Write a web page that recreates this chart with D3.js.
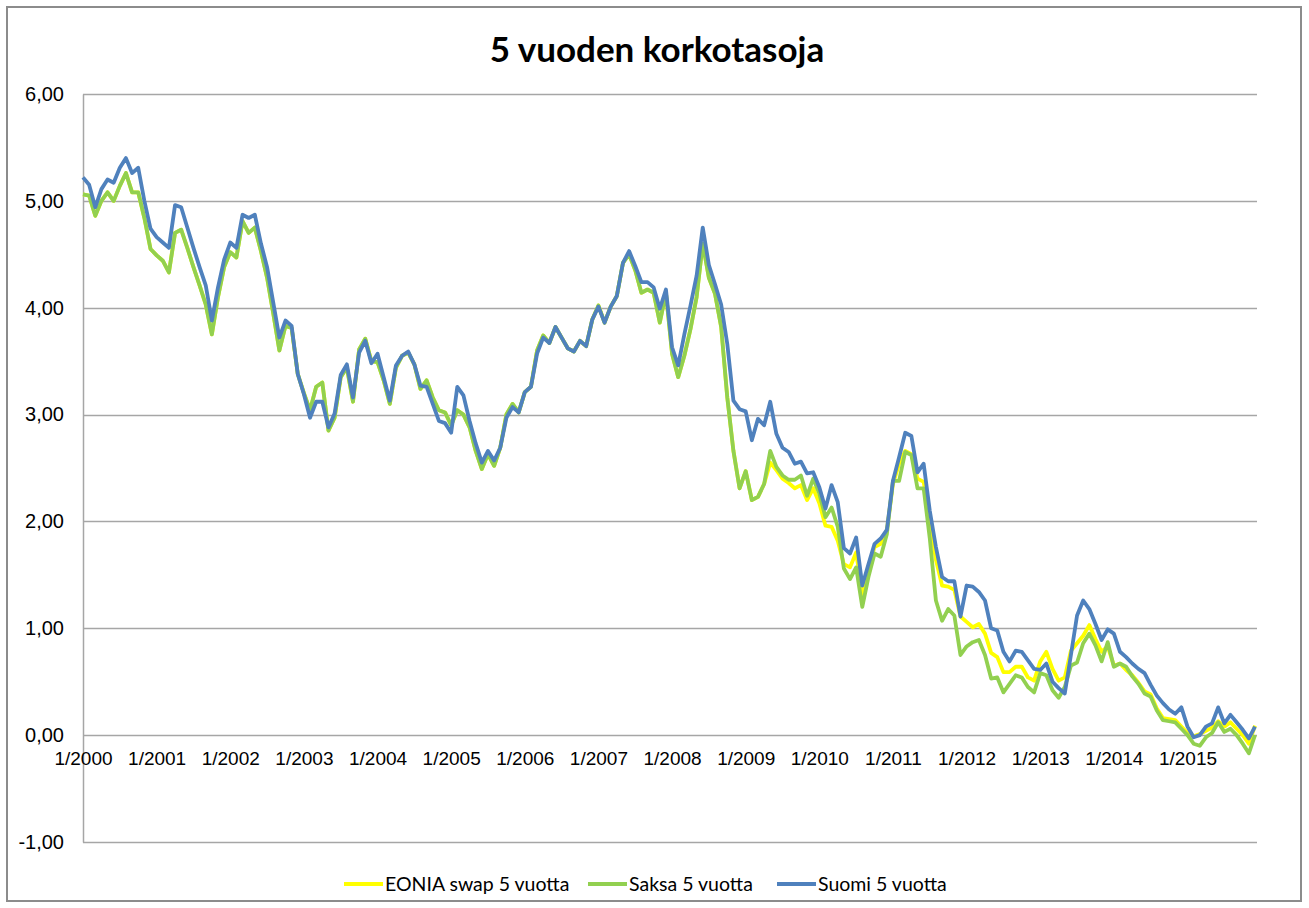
<!DOCTYPE html>
<html>
<head>
<meta charset="utf-8">
<script src="https://cdn.jsdelivr.net/npm/d3@7"></script>
<style>
  body { margin: 0; background: #fff; }
  svg { font-family: Lato, "Open Sans", sans-serif; }
</style>
</head>
<body>
<svg id="chart"></svg>
<script>
// monthly values, 1/2000 ... 12/2015
const yearLabels = ['1/2000','1/2001','1/2002','1/2003','1/2004','1/2005','1/2006','1/2007',
  '1/2008','1/2009','1/2010','1/2011','1/2012','1/2013','1/2014','1/2015']
const yTicks = [-1, 0, 1, 2, 3, 4, 5, 6]

const eonia = [
  5.06,5.05,4.86,5.00,5.08,5.00,5.14,5.26,5.08,5.08,4.84,4.55,
  4.49,4.44,4.33,4.70,4.73,4.56,4.38,4.21,4.03,3.75,4.10,4.38,
  4.52,4.47,4.81,4.70,4.75,4.53,4.28,3.95,3.60,3.83,3.81,3.38,
  3.20,3.04,3.26,3.30,2.85,2.97,3.35,3.44,3.12,3.61,3.71,3.50,
  3.49,3.32,3.10,3.44,3.55,3.58,3.47,3.24,3.32,3.16,3.04,3.02,
  2.90,3.04,3.00,2.88,2.66,2.49,2.63,2.52,2.69,3.00,3.10,3.02,
  3.21,3.26,3.60,3.74,3.67,3.82,3.72,3.62,3.59,3.69,3.64,3.89,
  4.02,3.86,4.01,4.11,4.42,4.50,4.35,4.14,4.17,4.14,3.86,4.14,
  3.57,3.35,3.55,3.80,4.10,4.60,4.28,4.13,3.82,3.16,2.66,2.31,
  2.47,2.20,2.23,2.35,2.55,2.48,2.40,2.36,2.31,2.34,2.20,2.31,
  2.17,1.96,1.95,1.82,1.60,1.57,1.71,1.32,1.57,1.76,1.79,1.92,
  2.35,2.54,2.66,2.63,2.40,2.37,2.01,1.64,1.40,1.39,1.36,1.11,
  1.06,1.01,1.04,0.95,0.77,0.73,0.59,0.59,0.64,0.64,0.54,0.51,
  0.69,0.78,0.62,0.51,0.54,0.79,0.86,0.93,1.03,0.90,0.78,0.83,
  0.65,0.67,0.61,0.56,0.49,0.41,0.38,0.25,0.16,0.15,0.14,0.08,
  0.02,-0.01,0.01,0.04,0.07,0.13,0.08,0.12,0.06,0.00,-0.08,0.09
]

const saksa = [
  5.06,5.05,4.86,5.00,5.08,5.00,5.14,5.26,5.08,5.08,4.84,4.55,
  4.49,4.44,4.33,4.70,4.73,4.56,4.38,4.21,4.03,3.75,4.10,4.38,
  4.52,4.47,4.81,4.70,4.75,4.53,4.28,3.95,3.60,3.83,3.81,3.38,
  3.20,3.04,3.26,3.30,2.85,2.97,3.35,3.44,3.12,3.61,3.71,3.50,
  3.49,3.32,3.10,3.44,3.55,3.58,3.47,3.24,3.32,3.16,3.04,3.02,
  2.90,3.04,3.00,2.88,2.66,2.49,2.63,2.52,2.69,3.00,3.10,3.02,
  3.21,3.26,3.60,3.74,3.67,3.82,3.72,3.62,3.59,3.69,3.64,3.89,
  4.02,3.86,4.01,4.11,4.42,4.50,4.35,4.14,4.17,4.14,3.86,4.14,
  3.57,3.35,3.55,3.80,4.10,4.60,4.28,4.13,3.82,3.16,2.66,2.31,
  2.47,2.20,2.23,2.35,2.66,2.51,2.43,2.39,2.39,2.43,2.24,2.40,
  2.26,2.04,2.13,1.95,1.56,1.46,1.57,1.20,1.48,1.70,1.67,1.88,
  2.38,2.38,2.65,2.62,2.31,2.31,1.84,1.26,1.07,1.18,1.12,0.75,
  0.83,0.87,0.89,0.75,0.53,0.54,0.40,0.48,0.56,0.54,0.45,0.40,
  0.58,0.56,0.42,0.35,0.45,0.65,0.68,0.86,0.95,0.84,0.69,0.87,
  0.64,0.67,0.64,0.55,0.48,0.39,0.36,0.23,0.14,0.13,0.12,0.06,
  0.00,-0.08,-0.10,-0.02,0.02,0.12,0.03,0.06,0.00,-0.08,-0.17,0.00
]

const suomi = [
  5.22,5.15,4.94,5.11,5.20,5.17,5.31,5.40,5.26,5.31,5.00,4.74,
  4.66,4.61,4.56,4.96,4.94,4.75,4.56,4.38,4.21,3.88,4.19,4.45,
  4.61,4.56,4.87,4.84,4.87,4.60,4.38,4.05,3.72,3.88,3.83,3.38,
  3.19,2.97,3.12,3.12,2.88,3.01,3.37,3.47,3.16,3.58,3.69,3.48,
  3.57,3.35,3.13,3.46,3.55,3.59,3.47,3.27,3.26,3.10,2.94,2.92,
  2.83,3.26,3.18,2.94,2.73,2.55,2.66,2.57,2.69,2.97,3.07,3.02,
  3.21,3.26,3.57,3.72,3.67,3.82,3.72,3.62,3.59,3.69,3.64,3.89,
  4.01,3.86,4.01,4.11,4.42,4.53,4.39,4.24,4.24,4.19,3.99,4.17,
  3.63,3.46,3.75,4.02,4.30,4.75,4.40,4.22,4.03,3.66,3.13,3.05,
  3.03,2.76,2.96,2.90,3.12,2.82,2.69,2.65,2.54,2.56,2.45,2.46,
  2.32,2.12,2.34,2.18,1.75,1.70,1.85,1.40,1.60,1.79,1.84,1.92,
  2.38,2.60,2.83,2.80,2.46,2.54,2.10,1.76,1.48,1.44,1.44,1.11,
  1.40,1.39,1.34,1.26,1.00,0.98,0.78,0.69,0.79,0.78,0.70,0.62,
  0.61,0.67,0.50,0.44,0.39,0.75,1.12,1.26,1.18,1.04,0.89,0.99,
  0.95,0.78,0.73,0.67,0.62,0.58,0.47,0.37,0.30,0.24,0.20,0.26,
  0.08,-0.02,0.00,0.08,0.11,0.26,0.11,0.19,0.12,0.05,-0.03,0.08
]

const seriesNames = ['EONIA swap 5 vuotta', 'Saksa 5 vuotta', 'Suomi 5 vuotta']
const seriesColors = ['#ffff00', '#92d050', '#4f81bd']
const series = [eonia, saksa, suomi]

const width = 1309, height = 908
const plot = { left: 83, right: 1257, top: 94, bottom: 842 }

const svg = d3.select('#chart').attr('width', width).attr('height', height)

// frame
svg.append('rect')
  .attr('x', 7).attr('y', 7)
  .attr('width', 1294).attr('height', 894)
  .attr('fill', '#fff')
  .attr('stroke', '#8c8c8c')
  .attr('stroke-width', 2)

svg.append('text')
  .attr('x', 657).attr('y', 62)
  .attr('text-anchor', 'middle')
  .style('font-size', '35px')
  .style('font-weight', 'bold')
  .attr('fill', '#000')
  .text('5 vuoden korkotasoja')

const x = d3.scaleLinear()
  .domain([0, suomi.length - 1])
  .range([plot.left, plot.right - 2])

const y = d3.scaleLinear()
  .domain([-1, 6])
  .range([plot.bottom, plot.top])

const fmt = v => d3.format('.2f')(v).replace('.', ',').replace('−', '-')

// gridlines
svg.append('g')
  .selectAll('line')
  .data(yTicks)
  .enter()
  .append('line')
    .attr('x1', plot.left).attr('x2', plot.right)
    .attr('y1', d => Math.round(y(d)) + 0.5)
    .attr('y2', d => Math.round(y(d)) + 0.5)
    .attr('stroke', '#a6a6a6')
    .attr('stroke-width', 1.5)

// y axis
const yAxis = svg.append('g')
  .attr('transform', 'translate(' + plot.left + ',0)')
  .call(d3.axisLeft(y).tickValues(yTicks).tickSize(0).tickPadding(19).tickFormat(fmt))
yAxis.select('.domain').attr('stroke', '#a6a6a6').attr('stroke-width', 1.5)
yAxis.selectAll('text').style('font-size', '20px').attr('fill', '#000').attr('font-family', null)

// x axis on the zero line
const xAxis = svg.append('g')
  .attr('transform', 'translate(0,' + Math.round(y(0)) + ')')
  .call(d3.axisBottom(x)
    .tickValues(yearLabels.map((d, i) => i * 12))
    .tickSize(0).tickPadding(17)
    .tickFormat((d, i) => yearLabels[i]))
xAxis.select('.domain').remove()
xAxis.selectAll('text').style('font-size', '19px').attr('fill', '#000').attr('font-family', null)

// lines
const line = d3.line()
  .x((d, i) => x(i))
  .y(d => y(d))

svg.append('g')
  .selectAll('path')
  .data(series)
  .enter()
  .append('path')
    .attr('d', d => line(d))
    .attr('fill', 'none')
    .attr('stroke', (d, i) => seriesColors[i])
    .attr('stroke-width', 3.8)
    .attr('stroke-linejoin', 'round')

// legend
const legendX = [344, 588, 777]
const legend = svg.append('g')
  .selectAll('g')
  .data(seriesNames)
  .enter()
  .append('g')
    .attr('transform', (d, i) => 'translate(' + legendX[i] + ',884)')

legend.append('line')
  .attr('x1', 0).attr('x2', 39)
  .attr('stroke', (d, i) => seriesColors[i])
  .attr('stroke-width', 3.8)

legend.append('text')
  .attr('x', 41).attr('dy', '0.35em')
  .style('font-size', '19.5px')
  .text(d => d)
</script>
</body>
</html>
